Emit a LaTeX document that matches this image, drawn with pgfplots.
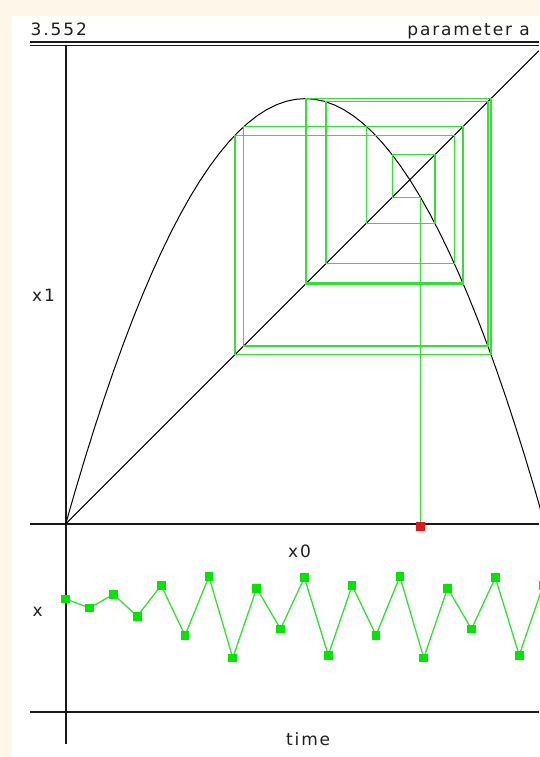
\documentclass[border=0pt]{standalone}
\usepackage{fontspec}
\newfontfamily\uifont[LetterSpace=11]{DejaVu Sans}
\usepackage{pgfplots}
\pgfplotsset{compat=1.18}
\definecolor{cream}{RGB}{254,246,233}
\definecolor{webgreen}{RGB}{50,225,50}
\definecolor{dotgreen}{RGB}{0,230,0}
\definecolor{dotred}{RGB}{228,22,22}
\definecolor{ink}{RGB}{30,30,30}
\tikzset{lbl/.style={inner sep=0pt,anchor=base west,text=ink,font=\uifont\fontsize{17}{19}\selectfont}}
\pgfplotsset{applet/.style={scale only axis,anchor=south west,axis lines=middle,
  axis line style={-,line width=1.6pt,black!90},
  every inner x axis line/.append style={line width=1.6pt},
  every inner y axis line/.append style={line width=1.6pt},
  xtick=\empty,ytick=\empty,enlargelimits=false,clip=false}}

\begin{document}
\begin{tikzpicture}
\useasboundingbox (0pt,0pt) rectangle (539pt,757pt);
\fill[cream] (0pt,0pt) rectangle (539pt,757pt);
\fill[white] (12pt,0pt) rectangle (539pt,741pt);
\draw[line width=1.4pt,black!90] (30pt,715pt) -- (539pt,715pt);
\draw[line width=1.4pt,black!90] (30pt,711.5pt) -- (539pt,711.5pt);
\node[lbl] at (30.5pt,721.5pt) {3.552};
\node[lbl,anchor=base east] at (530pt,721pt) {parameter a};
\node[lbl] at (32pt,455pt) {x1};
\node[lbl] at (288pt,199.3pt) {x0};
\node[lbl] at (32.5pt,140pt) {x};
\node[lbl] at (286pt,11.3pt) {time};

% cobweb panel
\begin{axis}[applet,at={(30pt,233pt)},width=509pt,height=478pt,
  xmin=-0.07453,xmax=0.98810,ymin=0,ymax=0.99791]
\addplot[black,line width=1pt] coordinates {
(0,0)(0.02,0.06962)(0.04,0.13640)(0.06,0.20033)(0.08,0.26143)(0.10,0.31968)
(0.12,0.37509)(0.14,0.42766)(0.16,0.47739)(0.18,0.52428)(0.20,0.56832)
(0.22,0.60952)(0.24,0.64788)(0.26,0.68340)(0.28,0.71608)(0.30,0.74592)
(0.32,0.77292)(0.34,0.79707)(0.36,0.81838)(0.38,0.83685)(0.40,0.85248)
(0.42,0.86527)(0.44,0.87521)(0.46,0.88232)(0.48,0.88658)(0.50,0.88800)
(0.52,0.88658)(0.54,0.88232)(0.56,0.87521)(0.58,0.86527)(0.60,0.85248)
(0.62,0.83685)(0.64,0.81838)(0.66,0.79707)(0.68,0.77292)(0.70,0.74592)
(0.72,0.71608)(0.74,0.68340)(0.76,0.64788)(0.78,0.60952)(0.80,0.56832)
(0.82,0.52428)(0.84,0.47739)(0.86,0.42766)(0.88,0.37509)(0.90,0.31968)
(0.92,0.26143)(0.94,0.20033)(0.96,0.13640)(0.98,0.06962)(1.00,0)};
\addplot[black,line width=1pt] coordinates {(0,0)(0.988,0.988)};
\addplot[webgreen,line width=1.3pt] coordinates {
(0.741,0)
(0.741,0.68170)(0.68170,0.68170)(0.68170,0.77073)(0.77073,0.77073)
(0.77073,0.62766)(0.62766,0.62766)(0.62766,0.83011)(0.83011,0.83011)
(0.83011,0.50093)(0.50093,0.50093)(0.50093,0.88800)(0.88800,0.88800)
(0.88800,0.35327)(0.35327,0.35327)(0.35327,0.81153)(0.81153,0.81153)
(0.81153,0.54328)(0.54328,0.54328)(0.54328,0.88135)(0.88135,0.88135)
(0.88135,0.37144)(0.37144,0.37144)(0.37144,0.82929)(0.82929,0.82929)
(0.82929,0.50285)(0.50285,0.50285)(0.50285,0.88797)(0.88797,0.88797)
(0.88797,0.35335)(0.35335,0.35335)(0.35335,0.81161)(0.81161,0.81161)
(0.81161,0.54310)(0.54310,0.54310)(0.54310,0.88140)(0.88140,0.88140)
(0.88140,0.37131)(0.37131,0.37131)(0.37131,0.82918)(0.82918,0.82918)
(0.82918,0.50311)(0.50311,0.50311)};
\addplot[only marks,mark=square*,mark size=4pt,
  mark options={draw=dotred,fill=dotred}] coordinates {(0.741,-0.004)};
\end{axis}

% time series panel
\begin{axis}[applet,at={(30pt,13pt)},width=509pt,height=220pt,
  xmin=-1.4956,xmax=19.828,ymin=-0.2122,ymax=1.2333]
\addplot[webgreen,line width=1.3pt,mark=square*,mark size=3.7pt,
  mark options={draw=dotgreen,fill=dotgreen}] coordinates {
(0,0.74100)(1,0.68170)(2,0.77073)(3,0.62766)(4,0.83011)(5,0.50093)
(6,0.88800)(7,0.35327)(8,0.81153)(9,0.54328)(10,0.88135)(11,0.37144)
(12,0.82929)(13,0.50285)(14,0.88797)(15,0.35335)(16,0.81161)(17,0.54310)
(18,0.88140)(19,0.37131)(20,0.82918)};
\end{axis}
\end{tikzpicture}
\end{document}
